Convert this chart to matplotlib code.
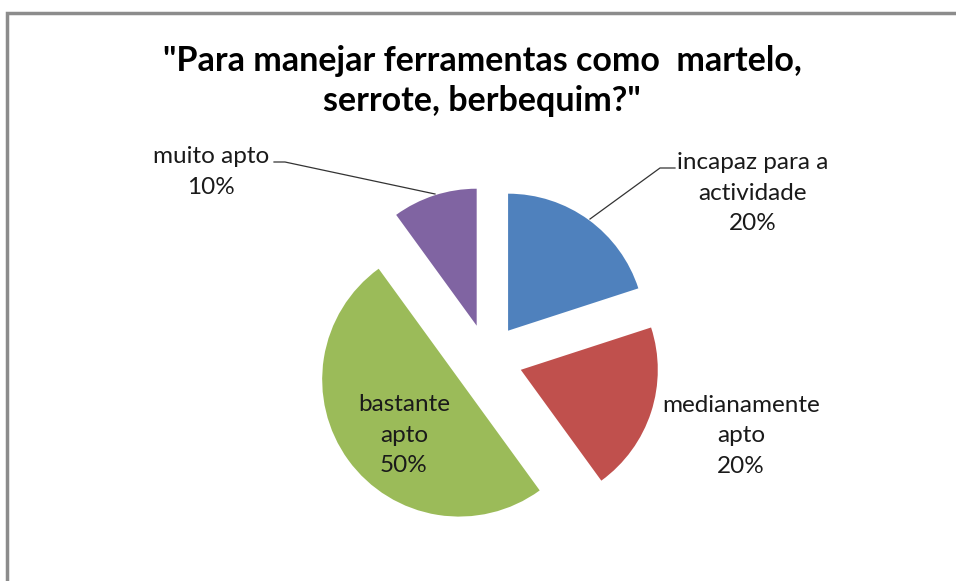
import matplotlib.pyplot as plt

# Answers to the question in the title (share of people, %)
categorias = ["incapaz para a\nactividade", "medianamente\napto", "bastante\napto", "muito apto"]
percentagens = [20, 20, 50, 10]
cores = ["#4F81BD", "#C0504D", "#9BBB59", "#8064A2"]
titulo = '"Para manejar ferramentas como  martelo,\nserrote, berbequim?"'

W, H = 956, 581
plt.rcParams['font.family'] = ['Lato', 'DejaVu Sans']

fig = plt.figure(figsize=(W / 100, H / 100), dpi=100)
ax = fig.add_axes([0, 0, 1, 1])


def px(x, y):
    # pixel position (origin top-left) -> data coords
    return x, H - y


# exploded pie, clockwise from 12 o'clock (explode is in data units here)
cx, cy = px(487.5, 359)
ax.pie(percentagens, colors=cores, startangle=90, counterclock=False,
       radius=137, center=(cx, cy), explode=[35] * len(percentagens),
       wedgeprops=dict(linewidth=0))

ax.set_xlim(0, W)
ax.set_ylim(0, H)
ax.set_aspect('equal')
ax.axis('off')

# chart frame (cut off at right and bottom)
ax.plot([7, 7, W + 5], [-5, H - 13, H - 13], color="#8c8c8c", lw=2.5,
        solid_joinstyle='miter', clip_on=False)

ax.text(*px(482, 81), titulo, ha='center', va='center', fontsize=24.5,
        fontweight='bold', color='black', linespacing=1.27)

txt = dict(ha='center', va='center', fontsize=17.5, color='#1a1a1a', linespacing=1.55)
rotulos = [f"{c}\n{p}%" for c, p in zip(categorias, percentagens)]
ax.text(*px(753, 193), rotulos[0], **txt)
ax.text(*px(741, 436), rotulos[1], **txt)
ax.text(*px(404, 435), rotulos[2], **txt)
ax.text(*px(211, 172), rotulos[3], **txt)

# leader lines
lx, ly = zip(px(590, 219), px(660, 168), px(675, 168))
ax.plot(lx, ly, color='#333333', lw=0.9)
lx, ly = zip(px(274, 162), px(285, 162), px(435, 194))
ax.plot(lx, ly, color='#333333', lw=0.9)

fig.savefig("out.png", dpi=100, facecolor='white')
